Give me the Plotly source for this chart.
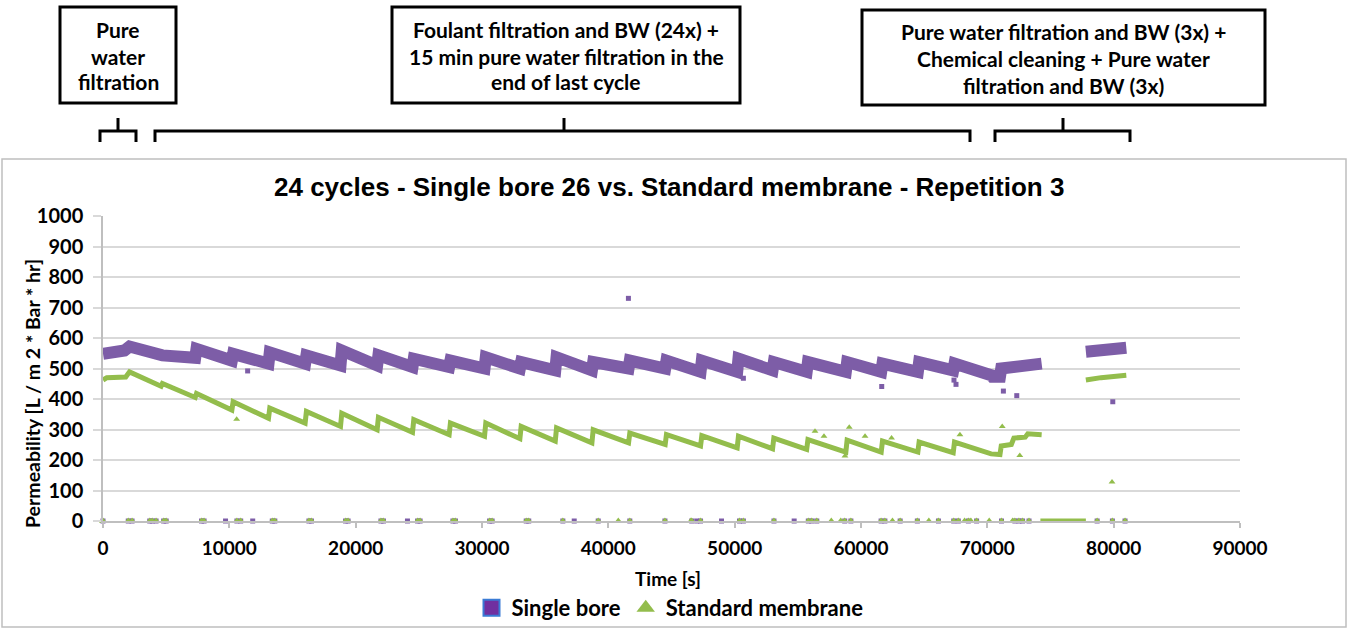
import plotly.graph_objects as go

# ---------------- data ----------------
# Single bore: band centre, continuous saw-tooth (None = gap during chemical cleaning)
sb_time = [0, 1700, 2100, 4600, 4700, 7300, 7400, 10200, 10300, 13100, 13200, 16000,
           16100, 18800, 18900, 21700, 21800, 24500, 24600, 27400, 27500, 30200,
           30300, 33000, 33100, 35800, 35900, 38700, 38800, 41600, 41700, 44500,
           44600, 47300, 47400, 50200, 50300, 53000, 53100, 55700, 55800, 58800,
           58900, 61600, 61700, 64500, 64600, 67300, 67400, 70300, 70400, 71000,
           71100, 74300, None, 77800, 79000, 81000]
sb_perm = [548, 559, 572, 552, 543, 535, 564, 526, 548, 516, 553, 516,
           543, 510, 559, 510, 543, 505, 532, 505, 526, 500,
           537, 500, 521, 494, 537, 494, 521, 500, 526, 500,
           526, 489, 526, 489, 532, 494, 521, 489, 521, 489,
           521, 489, 516, 489, 521, 494, 516, 478, 473, 473,
           500, 516, None, 555, 560, 568]

# Standard membrane: band centre
sm_time = [0, 300, 1800, 2100, 4600, 4700, 7300, 7400, 10200, 10300, 13100, 13200,
           16000, 16100, 18800, 18900, 21700, 21800, 24500, 24600, 27400, 27500,
           30200, 30300, 33000, 33100, 35800, 35900, 38700, 38800, 41600, 41700,
           44500, 44600, 47300, 47400, 50200, 50300, 53000, 53100, 55700, 55800,
           58800, 58900, 61600, 61700, 64500, 64600, 67300, 67400, 70300, 71000,
           71100, 71900, 72100, 73000, 73200, 74300, None, 77800, 79000, 81000]
sm_perm = [462, 470, 472, 489, 442, 451, 405, 418, 364, 391, 337, 370,
           321, 359, 310, 353, 299, 340, 291, 332, 283, 321,
           278, 321, 270, 310, 262, 305, 256, 299, 256, 288,
           251, 283, 246, 280, 240, 278, 237, 272, 235, 267,
           226, 265, 226, 262, 226, 259, 224, 259, 220, 218,
           246, 251, 272, 275, 286, 283, None, 462, 470, 478]

# zero readings
zero_both_time = [0, 2000, 2300, 3700, 3900, 4200, 4800, 5000, 7800, 8000, 10600, 10900,
                  13400, 13600, 16300, 16500, 19200, 19400, 22000, 22200, 24900, 25100,
                  27700, 27900, 30600, 30800, 33500, 33700, 36400, 39200, 41700, 44480,
                  46600, 47300, 50380, 50690, 53110, 55830, 56100, 56500, 58710, 59200,
                  61590, 61890, 63100, 64460, 66130, 67340, 67700, 68500, 69150, 71120,
                  72180, 72500, 72790, 73300, 78690, 79900, 80900]
zero_sb_only_time = [9700, 11850, 24100, 37300, 47000, 48960, 54710]
zero_sm_only_time = [40790, 46540, 57650, 58400, 62490, 65370, 68200, 68700, 70150, 72000]
sm_zero_run_time = [74200, 77800]
sm_zero_run_perm = [0, 0]

# isolated outliers
sb_out_time = [11450, 41590, 50690, 61640, 67360, 67520, 71270, 72330, 79930]
sb_out_perm = [492, 730, 468, 441, 462, 448, 426, 411, 391]
sm_out_time = [10580, 56360, 57070, 59070, 60320, 58730, 62420, 67830, 71180, 72570, 79870]
sm_out_perm = [334, 294, 278, 307, 278, 213, 272, 283, 310, 215, 128]

x_ticks = [0, 10000, 20000, 30000, 40000, 50000, 60000, 70000, 80000, 90000]
y_ticks = [0, 100, 200, 300, 400, 500, 600, 700, 800, 900, 1000]

series_names = ["Single bore", "Standard membrane"]
title_text = "24 cycles - Single bore 26 vs. Standard membrane - Repetition 3"
box_texts = [
    ["Pure", "water", "filtration"],
    ["Foulant filtration and BW (24x) +", "15 min pure water filtration in the", "end of last cycle"],
    ["Pure water filtration and BW (3x) +", "Chemical cleaning + Pure water", "filtration and BW (3x)"],
]

# ---------------- styling ----------------
PURPLE = "#7D5DA7"
GREEN = "#93BD4C"
W, H = 1348, 629
L, R, T, B = 103, 1240, 216, 521   # plot area in pixels


def px(xp):
    return (xp - L) / (R - L)


def py(yp):
    return (B - yp) / (B - T)


CAL = "Lato"
fig = go.Figure()

# bands
fig.add_trace(go.Scatter(x=sb_time, y=sb_perm, mode="lines", connectgaps=False,
                         line=dict(color=PURPLE, width=12), showlegend=False,
                         hoverinfo="skip", cliponaxis=False))
fig.add_trace(go.Scatter(x=zero_both_time + zero_sb_only_time,
                         y=[0] * (len(zero_both_time) + len(zero_sb_only_time)),
                         mode="markers", marker=dict(symbol="square", size=5, color=PURPLE),
                         showlegend=False, cliponaxis=False))
fig.add_trace(go.Scatter(x=sb_out_time, y=sb_out_perm, mode="markers",
                         marker=dict(symbol="square", size=5, color=PURPLE),
                         showlegend=False, cliponaxis=False))

fig.add_trace(go.Scatter(x=sm_time, y=sm_perm, mode="lines", connectgaps=False,
                         line=dict(color=GREEN, width=5), showlegend=False,
                         hoverinfo="skip", cliponaxis=False))
fig.add_trace(go.Scatter(x=sm_zero_run_time, y=sm_zero_run_perm, mode="lines",
                         line=dict(color=GREEN, width=5), showlegend=False, cliponaxis=False))
fig.add_trace(go.Scatter(x=zero_both_time + zero_sm_only_time,
                         y=[0] * (len(zero_both_time) + len(zero_sm_only_time)),
                         mode="markers", marker=dict(symbol="triangle-up", size=7, color=GREEN),
                         showlegend=False, cliponaxis=False))
fig.add_trace(go.Scatter(x=sm_out_time, y=sm_out_perm, mode="markers",
                         marker=dict(symbol="triangle-up", size=6, color=GREEN),
                         showlegend=False, cliponaxis=False))

# legend entries
fig.add_trace(go.Scatter(x=[None], y=[None], mode="markers", name=series_names[0],
                         marker=dict(symbol="square", size=16, color="#7030A0",
                                     line=dict(color="#3A7BD5", width=2))))
fig.add_trace(go.Scatter(x=[None], y=[None], mode="markers", name=series_names[1],
                         marker=dict(symbol="triangle-up", size=16, color=GREEN)))

shapes = []
annotations = []

# outer chart frame
shapes.append(dict(type="rect", xref="paper", yref="paper",
                   x0=px(2), x1=px(1346), y0=py(627), y1=py(159),
                   line=dict(color="#BFBFBF", width=1.5), layer="below"))

# boxes with text
boxes = [(60, 176, 7, 103, [29, 56, 82]),
         (392, 740, 7, 103, [29, 56, 82]),
         (862, 1265, 10, 105, [31, 58, 85])]
for (x0, x1, y0, y1, lines_y), texts in zip(boxes, box_texts):
    shapes.append(dict(type="rect", xref="paper", yref="paper",
                       x0=px(x0), x1=px(x1), y0=py(y1), y1=py(y0),
                       line=dict(color="black", width=3), fillcolor="white"))
    cx = (x0 + x1) / 2
    for t, ly in zip(texts, lines_y):
        annotations.append(dict(xref="paper", yref="paper", x=px(cx), y=py(ly),
                                text=t, showarrow=False, xanchor="center", yanchor="middle",
                                font=dict(family=CAL, size=21, color="black", weight=700)))

# brackets
brackets = [(100, 136, 118), (155, 970, 564), (995, 1130, 1063)]
for x0, x1, xc in brackets:
    path = (f"M {px(x0)},{py(142)} L {px(x0)},{py(131)} L {px(x1)},{py(131)} "
            f"L {px(x1)},{py(142)} M {px(xc)},{py(131)} L {px(xc)},{py(118)}")
    shapes.append(dict(type="path", xref="paper", yref="paper", path=path,
                       line=dict(color="black", width=3)))

# title
annotations.append(dict(xref="paper", yref="paper", x=px(669), y=py(187), text=title_text,
                        showarrow=False, xanchor="center", yanchor="middle",
                        font=dict(family="Liberation Sans", size=26, color="black", weight=700)))
# y axis title
annotations.append(dict(xref="paper", yref="paper", x=px(32), y=py(394),
                        text="Permeability [L / m 2 * Bar * hr]", textangle=-90,
                        showarrow=False, xanchor="center", yanchor="middle",
                        font=dict(family=CAL, size=19.5, color="black", weight=700)))
# x axis title
annotations.append(dict(xref="paper", yref="paper", x=px(668), y=py(578), text="Time [s]",
                        showarrow=False, xanchor="center", yanchor="middle",
                        font=dict(family=CAL, size=19, color="black", weight=700)))

fig.update_layout(
    width=W, height=H,
    margin=dict(l=L, r=W - R, t=T, b=H - B, pad=0, autoexpand=False),
    paper_bgcolor="white", plot_bgcolor="white",
    shapes=shapes, annotations=annotations,
    showlegend=True,
    legend=dict(orientation="h", x=px(670), y=py(608), xanchor="center", yanchor="middle",
                font=dict(family=CAL, size=22, color="black", weight=700),
                bgcolor="rgba(0,0,0,0)", itemwidth=30),
    xaxis=dict(range=[0, 90000], tickvals=x_ticks, ticktext=[str(v) for v in x_ticks],
               showgrid=False, zeroline=False, showline=True, linecolor="#BFBFBF", linewidth=1.5,
               ticks="outside", ticklen=5, tickcolor="#BFBFBF", tickwidth=1.5,
               ticklabelstandoff=4,
               tickfont=dict(family=CAL, size=19, color="black", weight=700)),
    yaxis=dict(range=[0, 1000], tickvals=y_ticks, ticktext=[str(v) for v in y_ticks],
               showgrid=True, gridcolor="#D9D9D9", gridwidth=1.5, zeroline=False,
               showline=True, linecolor="#BFBFBF", linewidth=1.5,
               ticks="outside", ticklen=8, tickcolor="#D9D9D9", tickwidth=1.5,
               ticklabelstandoff=6,
               tickfont=dict(family=CAL, size=20, color="black", weight=700)),
)

fig.write_html("out.html", config={"displayModeBar": False},
               post_script="document.body.style.margin='0';")
